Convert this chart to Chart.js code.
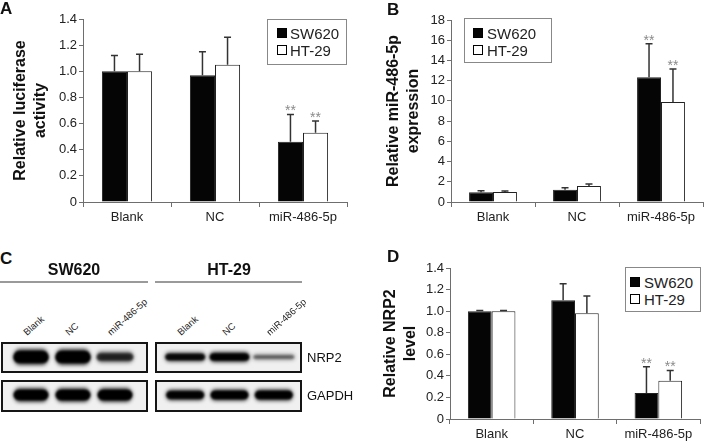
<!DOCTYPE html>
<html><head><meta charset="utf-8">
<script src="https://cdn.jsdelivr.net/npm/chart.js@4.4.1/dist/chart.umd.min.js"></script>
<style>
html,body{margin:0;padding:0;background:#fff;}
body{width:704px;height:441px;position:relative;overflow:hidden;font-family:"Liberation Sans",Arial,sans-serif;color:#111;}
canvas{position:absolute;}
.t{position:absolute;line-height:1;white-space:nowrap;}
.letter{font-weight:bold;font-size:17px;}
.legend{position:absolute;border:1px solid #888;background:#fff;box-sizing:border-box;}
.sw{position:absolute;width:10px;height:10px;box-sizing:border-box;border:1px solid #000;}
.frame{position:absolute;border:2px solid #151515;background:#f0f0f0;box-sizing:border-box;}
.hline{position:absolute;height:2px;background:#9a9a9a;}
</style></head><body>

<canvas id="cA" width="352" height="226" style="left:0;top:0"></canvas>
<canvas id="cB" width="352" height="226" style="left:352px;top:0"></canvas>
<canvas id="cD" width="352" height="221" style="left:352px;top:220px"></canvas>

<div class="frame" style="left:1px;top:342px;width:147px;height:31px"></div>
<div class="frame" style="left:1px;top:380px;width:147px;height:32px"></div>
<div class="frame" style="left:155px;top:342px;width:147px;height:31px"></div>
<div class="frame" style="left:155px;top:380px;width:147px;height:32px"></div>
<canvas id="cC1" width="150" height="76" style="left:0;top:338px"></canvas>
<canvas id="cC2" width="150" height="76" style="left:153px;top:338px"></canvas>

<div class="t letter" style="left:0;top:0">A</div>
<div class="t letter" style="left:387px;top:1px">B</div>
<div class="t letter" style="left:0;top:250px">C</div>
<div class="t letter" style="left:387px;top:248px">D</div>

<div class="t" style="left:24px;top:262px;width:100px;text-align:center;font-weight:bold;font-size:16px">SW620</div>
<div class="t" style="left:179px;top:262px;width:100px;text-align:center;font-weight:bold;font-size:16px">HT-29</div>
<div class="hline" style="left:0;top:281px;width:148px"></div>
<div class="hline" style="left:155px;top:281px;width:147px"></div>
<div class="t" style="left:307px;top:350.5px;font-size:13px">NRP2</div>
<div class="t" style="left:307px;top:388.5px;font-size:13px">GAPDH</div>

<div id="overlay"></div>

<script>
// ---------- data ----------
const categories = ['Blank', 'NC', 'miR-486-5p'];
const seriesNames = ['SW620', 'HT-29'];

// Panel A: relative luciferase activity
const aSW620    = [1.00, 0.97, 0.46];
const aSW620Err = [0.12, 0.18, 0.21];
const aHT29     = [1.00, 1.05, 0.53];
const aHT29Err  = [0.13, 0.21, 0.09];
const aTicks    = [0, 0.2, 0.4, 0.6, 0.8, 1, 1.2, 1.4];

// Panel B: relative miR-486-5p expression
const bSW620    = [0.97, 1.22, 12.35];
const bSW620Err = [0.14, 0.20, 3.30];
const bHT29     = [1.00, 1.58, 9.88];
const bHT29Err  = [0.10, 0.20, 3.27];
const bTicks    = [0, 2, 4, 6, 8, 10, 12, 14, 16, 18];

// Panel D: relative NRP2 level
const dSW620    = [1.00, 1.10, 0.24];
const dSW620Err = [0.005, 0.155, 0.245];
const dHT29     = [1.00, 0.98, 0.355];
const dHT29Err  = [0.005, 0.16, 0.095];
const dTicks    = [0, 0.2, 0.4, 0.6, 0.8, 1, 1.2, 1.4];

// significance marks (same for both series in each panel)
const sigMarks  = ['', '', '**'];

// Panel C: western blot band intensities (relative)
const blotRows      = ['NRP2', 'GAPDH'];
const nrp2SW620     = [1.00, 1.00, 0.55];
const gapdhSW620    = [1.00, 1.00, 1.00];
const nrp2HT29      = [0.80, 0.90, 0.30];
const gapdhHT29     = [0.90, 0.95, 0.93];

// ---------- rendering ----------
const FF = '"Liberation Sans", Arial, sans-serif';
Chart.defaults.font.family = FF;

const errPlugin = {
  id: 'errbars',
  afterDatasetsDraw(chart) {
    const ctx = chart.ctx, y = chart.scales.y;
    chart.data.datasets.forEach((ds, di) => {
      const meta = chart.getDatasetMeta(di);
      meta.data.forEach((bar, i) => {
        const top = y.getPixelForValue(ds.data[i] + ds.err[i]);
        const x = bar.x;
        ctx.save();
        ctx.strokeStyle = '#333';
        ctx.lineWidth = 1.5;
        ctx.beginPath();
        ctx.moveTo(x, bar.y); ctx.lineTo(x, top);
        ctx.moveTo(x - 3.5, top); ctx.lineTo(x + 3.5, top);
        ctx.stroke();
        if (ds.stars[i]) {
          ctx.fillStyle = '#8a8a8a';
          ctx.font = '14px ' + FF;
          ctx.textAlign = 'center';
          ctx.textBaseline = 'alphabetic';
          ctx.fillText(ds.stars[i], x, top + 1);
        }
        ctx.restore();
      });
    });
  }
};

function barPanel(id, o) {
  return new Chart(document.getElementById(id), {
    type: 'bar',
    data: {
      labels: categories,
      datasets: [
        { label: seriesNames[0], data: o.sw, err: o.swErr, stars: sigMarks,
          backgroundColor: '#050505', borderColor: '#222', borderWidth: 1 },
        { label: seriesNames[1], data: o.ht, err: o.htErr, stars: sigMarks,
          backgroundColor: '#ffffff', borderColor: '#222', borderWidth: 1 }
      ]
    },
    options: {
      responsive: false, animation: false, devicePixelRatio: 1,
      layout: { padding: o.pad },
      datasets: { bar: { categoryPercentage: 0.57, barPercentage: 1.0 } },
      plugins: { legend: { display: false }, tooltip: { enabled: false } },
      scales: {
        x: {
          grid: { display: true, drawOnChartArea: false, drawTicks: true, tickLength: 5, color: '#6e6e6e', offset: true },
          border: { color: '#6e6e6e', width: 1 },
          ticks: { font: { size: 13 }, color: '#222', padding: 3, maxRotation: 0, autoSkip: false },
          afterFit(s) { s.height = o.xh; }
        },
        y: {
          min: 0, max: o.ticks[o.ticks.length - 1],
          grid: { display: true, drawOnChartArea: false, tickLength: 4, color: '#6e6e6e' },
          border: { color: '#6e6e6e', width: 1 },
          ticks: { font: { size: 13 }, color: '#222', padding: 2 },
          afterBuildTicks(s) { s.ticks = o.ticks.map(v => ({ value: v })); },
          afterFit(s) { s.width = o.yw; },
          title: { display: true, text: o.title, color: '#111',
                   font: { size: 16, weight: 'bold', lineHeight: 1.25 },
                   padding: { top: o.tpad, bottom: 0 } }
        }
      }
    },
    plugins: [errPlugin]
  });
}

barPanel('cA', { sw: aSW620, swErr: aSW620Err, ht: aHT29, htErr: aHT29Err, ticks: aTicks,
  title: ['Relative luciferase', 'activity'],
  pad: { top: 19, right: 5, left: 0, bottom: 0 }, yw: 83, xh: 24, tpad: 11 });
barPanel('cB', { sw: bSW620, swErr: bSW620Err, ht: bHT29, htErr: bHT29Err, ticks: bTicks,
  title: ['Relative miR-486-5p', 'expression'],
  pad: { top: 20, right: 1, left: 0, bottom: 0 }, yw: 99, xh: 24, tpad: 32 });
barPanel('cD', { sw: dSW620, swErr: dSW620Err, ht: dHT29, htErr: dHT29Err, ticks: dTicks,
  title: ['Relative NRP2', 'level'],
  pad: { top: 48, right: 4, left: 0, bottom: 0 }, yw: 98, xh: 22, tpad: 29 });

// western blot bands
const bandPlugin = {
  id: 'bands',
  afterDatasetsDraw(chart) {
    const ctx = chart.ctx, xs = chart.scales.x;
    const lane = xs.getPixelForValue(1) - xs.getPixelForValue(0);
    chart.data.datasets.forEach((ds, di) => {
      const meta = chart.getDatasetMeta(di);
      meta.data.forEach((pt, i) => {
        const v = ds.intensity[i];
        const w = lane * ds.bandWidth;
        const h = ds.bandHeight * (0.3 + 0.7 * v);
        [[2.2, 0.25 + 0.75 * v, 1.0], [1.0, Math.min(1, 0.1 + 0.95 * v), 0.7]].forEach(([blur, a, f]) => {
          ctx.save();
          ctx.filter = 'blur(' + blur + 'px)';
          ctx.fillStyle = 'rgba(0,0,0,' + a + ')';
          const hh = h * f, ww = w - (1 - f) * 6;
          const r = hh / 2;
          const x0 = pt.x - ww / 2, y0 = pt.y - hh / 2;
          ctx.beginPath();
          ctx.moveTo(x0 + r, y0);
          ctx.lineTo(x0 + ww - r, y0);
          ctx.quadraticCurveTo(x0 + ww + 1, pt.y, x0 + ww - r, y0 + hh);
          ctx.lineTo(x0 + r, y0 + hh);
          ctx.quadraticCurveTo(x0 - 1, pt.y, x0 + r, y0);
          ctx.fill();
          ctx.restore();
        });
      });
    });
  }
};

function blotPanel(id, nrp, gapdh, nrpH, gapdhH, pad) {
  return new Chart(document.getElementById(id), {
    type: 'scatter',
    data: {
      datasets: [
        { data: categories.map(c => ({ x: c, y: blotRows[0] })), intensity: nrp, bandHeight: nrpH, bandWidth: 0.98, pointRadius: 0 },
        { data: categories.map(c => ({ x: c, y: blotRows[1] })), intensity: gapdh, bandHeight: gapdhH, bandWidth: 0.95, pointRadius: 0 }
      ]
    },
    options: {
      responsive: false, animation: false, devicePixelRatio: 1,
      layout: { padding: pad },
      plugins: { legend: { display: false }, tooltip: { enabled: false } },
      scales: {
        x: { type: 'category', labels: categories, offset: true, display: false },
        y: { type: 'category', labels: blotRows, offset: true, display: false }
      }
    },
    plugins: [bandPlugin]
  });
}

const c1 = blotPanel('cC1', nrp2SW620, gapdhSW620, 15, 13, { left: 10, right: 14, top: 0, bottom: 0 });
const c2 = blotPanel('cC2', nrp2HT29, gapdhHT29, 10, 11, { left: 10, right: 7, top: 0, bottom: 0 });

const overlay = document.getElementById('overlay');
function addText(txt, left, top, style) {
  const d = document.createElement('div');
  d.className = 't';
  d.textContent = txt;
  d.style.left = left + 'px';
  d.style.top = top + 'px';
  Object.assign(d.style, style || {});
  overlay.appendChild(d);
  return d;
}
// rotated lane labels positioned from the blot charts' lane scale
[[c1, 0], [c2, 153]].forEach(([ch, off]) => {
  categories.forEach((c, i) => {
    const x = ch.scales.x.getPixelForValue(i) + off - 4;
    addText(c, x, 336 - 8, { fontSize: '9.5px', color: '#222',
      transformOrigin: '0 8px', transform: 'rotate(-42deg)' });
  });
});

// legends
function legend(left, top, w, h, mx, tx, r1, r2) {
  const box = document.createElement('div');
  box.className = 'legend';
  Object.assign(box.style, { left: left + 'px', top: top + 'px', width: w + 'px', height: h + 'px' });
  overlay.appendChild(box);
  [[seriesNames[0], '#050505', r1], [seriesNames[1], '#fff', r2]].forEach(([name, col, rc]) => {
    const s = document.createElement('div');
    s.className = 'sw';
    Object.assign(s.style, { left: (left + mx) + 'px', top: (top + rc - 5) + 'px', background: col });
    overlay.appendChild(s);
    addText(name, left + tx, top + rc - 0.49 * 15, { fontSize: '15px', color: '#222' });
  });
}
legend(267, 19, 80, 46, 10, 23, 14, 31);
legend(464, 18, 88, 45, 9, 23, 15, 32);
legend(625, 267, 76, 45, 5, 19, 15, 32);
</script>
</body></html>
